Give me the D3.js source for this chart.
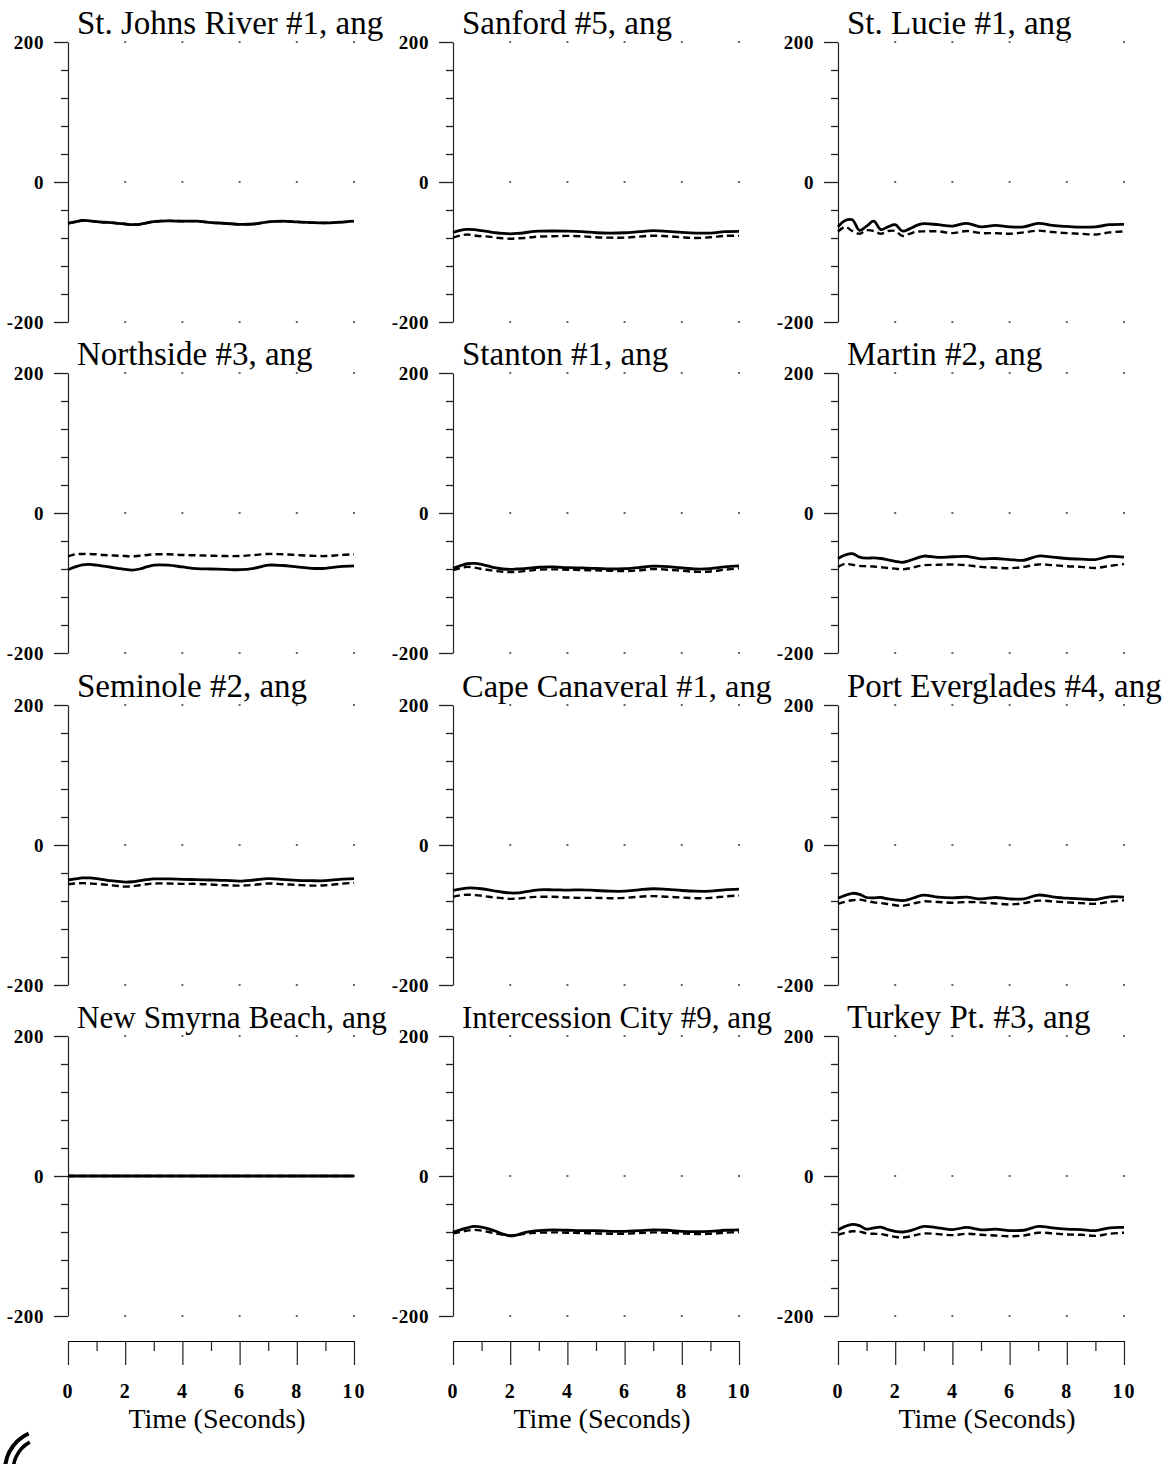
<!DOCTYPE html>
<html>
<head>
<meta charset="utf-8">
<script src="https://cdn.jsdelivr.net/npm/d3@7"></script>
<style>
  html, body { margin: 0; padding: 0; background: #fff; }
  svg { display: block; }
  text { font-family: "Liberation Serif", "Times New Roman", serif; fill: #000; }
</style>
</head>
<body>
<svg id="chart" width="1173" height="1464"></svg>
<script>
// ---- Data ----
const times = [0,0.25,0.5,0.75,1,1.25,1.5,1.75,2,2.25,2.5,2.75,3,3.5,4,4.5,5,5.5,6,6.5,7,7.5,8,8.5,9,9.5,10];

const titles = [
  "St. Johns River #1, ang", "Sanford #5, ang", "St. Lucie #1, ang",
  "Northside #3, ang", "Stanton #1, ang", "Martin #2, ang",
  "Seminole #2, ang", "Cape Canaveral #1, ang", "Port Everglades #4, ang",
  "New Smyrna Beach, ang", "Intercession City #9, ang", "Turkey Pt. #3, ang"
];

const yTickLabels = [200, 0, -200];
const yMinorTicks = [160, 120, 80, 40, -40, -80, -120, -160];
const xTickLabels = [0, 2, 4, 6, 8, 10];
const xMinorTicks = [1, 3, 5, 7, 9];
const xAxisTitle = "Time (Seconds)";

const stJohnsSolid  = [-59,-57,-55,-55.5,-56.5,-57.5,-58,-59,-60,-61,-60.5,-58.5,-56.5,-55.5,-56,-56,-58,-59,-60.5,-60,-57,-56,-57,-58,-58.5,-57.5,-56];
const stJohnsDashed = [-59,-57,-55,-55.5,-56.5,-57.5,-58,-59,-60,-61,-60.5,-58.5,-56.5,-55.5,-56,-56,-58,-59,-60.5,-60,-57,-56,-57,-58,-58.5,-57.5,-56];

const sanfordSolid  = [-72,-69,-67.6,-68,-69.5,-71,-72.5,-73.5,-74,-73.5,-72.5,-71,-70.3,-70,-70.3,-71,-72.5,-73,-72.5,-71,-69.5,-70.5,-72,-73,-73,-71,-70.5];
const sanfordDashed = [-79.5,-76.5,-75,-76.5,-77.5,-78,-79.5,-80.5,-81,-80.5,-80,-79,-78,-77.5,-77,-77.5,-79,-79.5,-79.5,-78,-76.7,-77.5,-79,-80,-79,-77,-76.7];

const stLucieSolid  = [-64,-55,-54,-69,-63,-56,-68,-64,-61,-70,-67,-62,-59.5,-61,-63,-59,-64,-62,-64,-64,-59,-62,-63.5,-64.5,-64,-61,-60.5];
const stLucieDashed = [-71,-64,-70,-74,-69,-70,-74,-70,-70,-77,-74,-71,-70.5,-70.5,-73,-70,-73,-73,-74,-72,-69.5,-71.5,-73,-74,-75,-72,-70.5];

const northsideSolid  = [-81,-77,-74,-73.5,-74.5,-76,-77.5,-79,-80.5,-81.5,-80,-77,-74.5,-74.5,-77,-79.5,-80,-80.5,-81,-79,-74.5,-75,-77,-79,-79,-76.5,-75.5];
const northsideDashed = [-62,-59,-58.5,-58.5,-59,-60,-60.5,-61,-61.5,-62,-61,-60,-59,-59,-60,-60.5,-61,-61.5,-61.5,-60,-58.5,-59,-60,-61,-61.5,-60,-59];

const stantonSolid  = [-79,-75.5,-72.5,-72,-73.5,-76,-78.5,-80,-80.5,-80,-79.5,-78.5,-77.5,-77,-78,-78.5,-79,-80,-79.5,-78,-76,-76.5,-78.5,-80,-79.5,-77,-75.5];
const stantonDashed = [-81.5,-79,-77,-78,-80,-81.5,-83,-84,-84.5,-84,-83,-82,-81,-80.5,-81,-81.5,-82,-82.5,-83,-82,-80,-81,-82.5,-84,-83.5,-81,-79];

const martinSolid  = [-65,-60,-58,-63,-64.5,-64,-65,-67,-69,-70.5,-68,-64.5,-61.5,-63.5,-62.5,-62,-65.5,-65,-66.5,-67.5,-61.5,-63,-65,-66,-66.5,-62,-63];
const martinDashed = [-77,-72.5,-74,-75.5,-76,-76.5,-77.5,-78.5,-79.5,-80.5,-79,-76.5,-74.5,-74,-73.5,-74.5,-77,-78,-79,-77,-73.5,-74.5,-76,-77,-78.5,-75.5,-73];

const seminoleSolid  = [-50,-48.5,-47,-47,-48,-49.5,-51,-52,-53,-52.5,-51,-49.5,-48.5,-48.5,-49,-49.5,-50,-50.5,-51.5,-50,-48,-49,-50.5,-51,-51,-49,-48];
const seminoleDashed = [-56,-55,-54.5,-55,-55.5,-56.5,-57.5,-58.5,-59.5,-59,-57.5,-56,-55,-55,-55.5,-55.5,-56.5,-57.5,-58,-57,-55,-56,-57,-58,-57.5,-55.5,-54];

const capeSolid  = [-65,-63,-61.5,-61.5,-62.5,-64,-66,-67.5,-68.5,-68.5,-67,-65.5,-64,-64,-64.5,-64,-65,-66,-66,-64,-62.5,-63.5,-65,-66,-66,-64,-63];
const capeDashed = [-74,-72,-71,-71.5,-72.5,-74,-75,-76,-77,-76.5,-75.5,-74.5,-74,-74,-75,-75.5,-75.5,-76,-75.5,-74,-73,-74,-75,-76,-75.5,-73.5,-72];

const portEvSolid  = [-76,-72,-69,-70.5,-75,-75.5,-75,-77,-78.5,-79.5,-77.5,-74,-71.5,-74.5,-75.5,-74.5,-77,-75,-77,-77,-71.5,-74,-76,-77,-78,-74,-74.5];
const portEvDashed = [-84,-81,-79,-78,-80,-82,-83,-84.5,-86,-87,-85,-82.5,-80.5,-81.5,-82.4,-81.5,-82,-83.5,-85,-83,-79.5,-80.5,-82,-83,-84,-81,-79];

const newSmyrnaSolid  = [0,0,0,0,0,0,0,0,0,0,0,0,0,0,0,0,0,0,0,0,0,0,0,0,0,0,0];
const newSmyrnaDashed = [0,0,0,0,0,0,0,0,0,0,0,0,0,0,0,0,0,0,0,0,0,0,0,0,0,0,0];

const intercessionSolid  = [-80,-77,-74,-72,-73,-75.5,-79,-83,-85.5,-84,-81,-79,-78,-77,-77.5,-78,-78,-79,-79,-78,-77,-77.5,-79,-79.5,-79,-77.5,-77];
const intercessionDashed = [-82,-80,-78,-77,-78,-80,-82,-84,-85,-84,-82.5,-81.5,-81,-80.5,-81,-81.5,-82,-82.5,-82.5,-81.5,-80.5,-81,-82,-83,-82.5,-81,-80];

const turkeySolid  = [-77,-72,-69,-71,-76,-74,-73,-76.5,-79,-80,-78.5,-75,-72,-74,-76.5,-73.5,-77,-76,-78,-77.5,-72,-74,-76,-76.5,-78,-74,-73.5];
const turkeyDashed = [-84,-81,-79,-79.5,-82,-82.5,-83,-85,-87,-88,-86.5,-84,-82,-83,-84.5,-82.5,-84,-85,-86,-85,-81,-82,-83.5,-84,-85.5,-82.5,-81];

const solidSeries = [stJohnsSolid, sanfordSolid, stLucieSolid, northsideSolid, stantonSolid, martinSolid,
  seminoleSolid, capeSolid, portEvSolid, newSmyrnaSolid, intercessionSolid, turkeySolid];
const dashedSeries = [stJohnsDashed, sanfordDashed, stLucieDashed, northsideDashed, stantonDashed, martinDashed,
  seminoleDashed, capeDashed, portEvDashed, newSmyrnaDashed, intercessionDashed, turkeyDashed];

// ---- Layout ----
const colX = [68, 453, 838];
const rowTop = [42, 373, 705, 1036];
const plotW = 286, plotH = 280;
const xAxisY = 1341;

const svg = d3.select("#chart");
const hyphenFmt = d => String(d).replace("\u2212", "-");

titles.forEach((title, i) => {
  const r = Math.floor(i / 3), c = i % 3;
  const x0 = colX[c], y0 = rowTop[r];
  const x = d3.scaleLinear().domain([0, 10]).range([x0, x0 + plotW]);
  const y = d3.scaleLinear().domain([-200, 200]).range([y0 + plotH, y0]);
  const g = svg.append("g");

  // grid dots
  const dots = [];
  [2, 4, 6, 8, 10].forEach(t => yTickLabels.forEach(v => dots.push([t, v])));
  g.selectAll("rect.dot").data(dots).enter().append("rect")
    .attr("x", d => x(d[0]) - 1).attr("y", d => y(d[1]) - 1)
    .attr("width", 2).attr("height", 2).attr("fill", "#666");

  // minor y ticks
  const minorAx = d3.axisLeft(y).tickValues(yMinorTicks).tickSize(7).tickSizeOuter(0).tickFormat("");
  const gm = g.append("g").attr("transform", `translate(${x0},0)`).call(minorAx);
  gm.select(".domain").remove();
  // major y ticks
  const majorAx = d3.axisLeft(y).tickValues(yTickLabels).tickSize(14).tickSizeOuter(0).tickPadding(10).tickFormat(hyphenFmt);
  const gy = g.append("g").attr("transform", `translate(${x0},0)`).call(majorAx);
  gy.selectAll("text").attr("font-family", "Liberation Serif, serif").attr("font-size", 19)
    .attr("font-weight", "bold").attr("letter-spacing", "0.6px");
  g.selectAll(".domain").attr("stroke", "#222").attr("stroke-width", 1.2);
  g.selectAll(".tick line").attr("stroke", "#222").attr("stroke-width", 1.3);

  // title (font shrunk where needed to stay clear of the next column's tick labels)
  const t = g.append("text").attr("x", x0 + 9).attr("y", y0 - 8)
    .attr("font-size", 33).text(title);
  if (c < 2) {
    const maxLen = colX[c + 1] - 66 - (x0 + 9);
    const len = t.node().getComputedTextLength();
    if (len > maxLen) t.attr("font-size", (33 * maxLen / len).toFixed(2));
  }

  // lines
  const line = d3.line().x((d, k) => x(times[k])).y(d => y(d)).curve(d3.curveCatmullRom.alpha(0.5));
  g.append("path").datum(dashedSeries[i]).attr("d", line)
    .attr("fill", "none").attr("stroke", "#000").attr("stroke-width", 2.4)
    .attr("stroke-dasharray", "7,4");
  g.append("path").datum(solidSeries[i]).attr("d", line)
    .attr("fill", "none").attr("stroke", "#000").attr("stroke-width", 2.8);

  // bottom x axis for each column
  if (r === 3) {
    const gx = svg.append("g").attr("transform", `translate(0,${xAxisY})`);
    const minorX = d3.axisBottom(x).tickValues(xMinorTicks).tickSize(10).tickSizeOuter(0).tickFormat("");
    gx.append("g").call(minorX).select(".domain").remove();
    const majorX = d3.axisBottom(x).tickValues(xTickLabels).tickSize(24).tickSizeOuter(0).tickPadding(19).tickFormat(d3.format("d"));
    const gmx = gx.append("g").call(majorX);
    gmx.selectAll("text").attr("font-family", "Liberation Serif, serif").attr("font-size", 20)
      .attr("font-weight", "bold").attr("letter-spacing", "2px");
    gx.selectAll(".domain").attr("stroke", "#000").attr("stroke-width", 1.2);
    gx.selectAll(".tick line").attr("stroke", "#222").attr("stroke-width", 1.2);
    svg.append("text").attr("x", x0 + plotW / 2 + 6).attr("y", 1428)
      .attr("text-anchor", "middle").attr("font-size", 28).text(xAxisTitle);
  }
});

// partial stamp mark in the bottom-left corner
const arc = d3.arc();
svg.append("path").attr("transform", "translate(45,1470)")
  .attr("d", arc({innerRadius: 38, outerRadius: 42, startAngle: -1.8, endAngle: -0.42}))
  .attr("fill", "#000");
svg.append("path").attr("transform", "translate(45,1470)")
  .attr("d", arc({innerRadius: 30, outerRadius: 33.5, startAngle: -1.8, endAngle: -0.5}))
  .attr("fill", "#000");
</script>
</body>
</html>
